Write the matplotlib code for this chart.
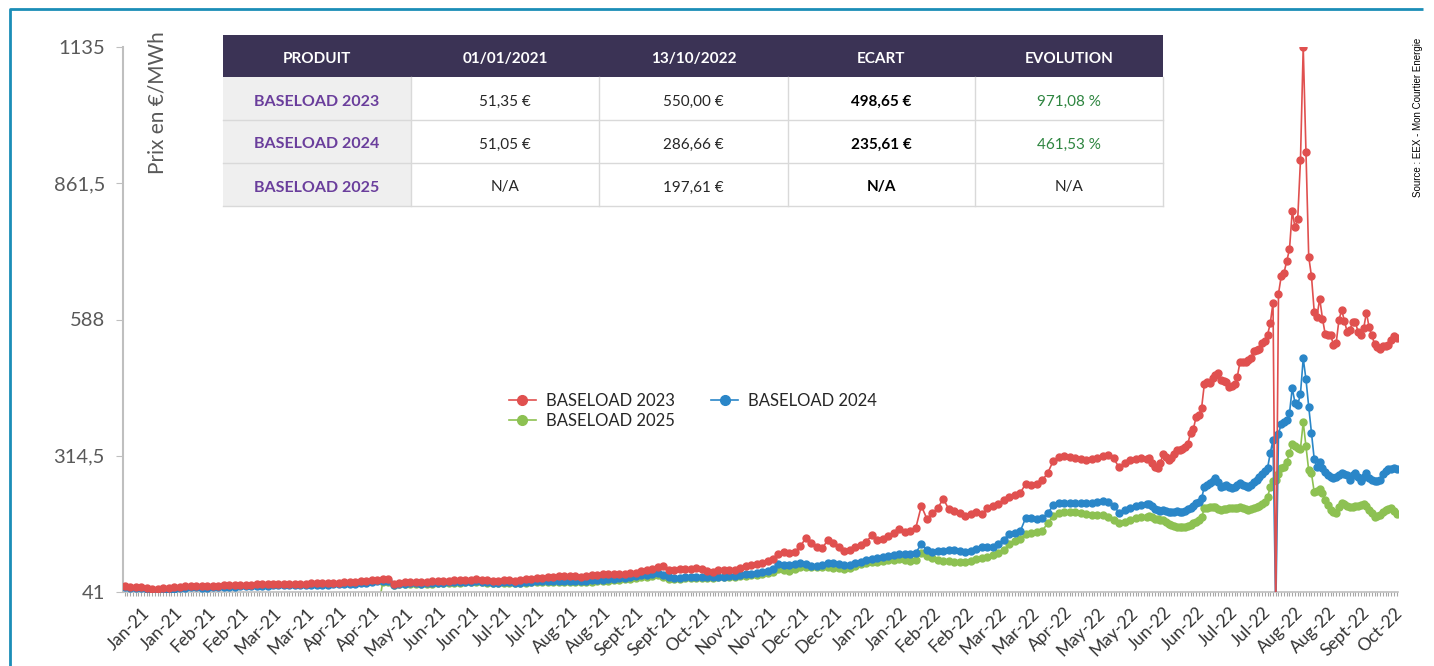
import numpy as np
import matplotlib
matplotlib.use('Agg')
import matplotlib.pyplot as plt
from matplotlib.lines import Line2D
from matplotlib.patches import Rectangle

plt.rcParams['font.family'] = ['Lato', 'DejaVu Sans']

# trading-day index of the samples: every 2nd day, then daily from mid-July 2022
days_early = np.arange(0, 372, 2)
days_late = np.arange(372, 464)
days_green_early = np.arange(92, 372, 2)   # BASELOAD 2025 quoted from April 2021

base2023_early = [
    53, 52, 52, 51, 50, 48, 48, 49, 50, 51,
    52, 53, 54, 54, 53, 53, 54, 54, 55, 55,
    55, 56, 56, 56, 57, 57, 57, 58, 58, 58,
    58, 58, 58, 58, 58.5, 59, 59, 59, 60, 60,
    61, 61, 62, 63, 64, 65, 66, 67, 67, 57,
    60, 61, 62, 62, 61, 62, 63, 63, 64, 64,
    65, 65, 66, 66, 67, 66, 65, 64, 64, 65,
    65, 64, 65, 67, 68, 70, 70, 71, 72, 73,
    73, 73, 73, 71, 74, 75, 76, 77, 77, 77,
    78, 78, 79, 80, 84, 86, 87, 92, 93, 85,
    86, 88, 88, 88, 89, 88, 84, 82, 85, 86,
    86, 85, 90, 93, 95, 97, 99, 103, 108, 118,
    122, 119, 122, 133, 150, 140, 131, 130, 145, 140,
    131, 124, 125, 131, 136, 142, 155, 145, 147, 154,
    160, 168, 161, 163, 170, 214, 188, 199, 210, 228,
    207, 203, 199, 193, 198, 201, 197, 209, 213, 218,
    225, 232, 235, 240, 258, 256, 257, 265, 280, 304,
    311, 314, 312, 309, 308, 306, 307, 309, 313, 317,
    309, 291, 300, 305, 308, 309,
]
base2023_late = [
    308, 309, 300, 292, 289, 300, 318, 312, 306, 310,
    318, 327, 326, 329, 333, 339, 360, 368, 392, 396,
    410, 458, 463, 460, 470, 476, 481, 466, 464, 463,
    452, 454, 458, 473, 503, 503, 503, 506, 510, 525,
    527, 528, 541, 545, 557, 580, 622, 0, 640, 675,
    682, 705, 729, 805, 773, 790, 908, 1135, 924, 714,
    675, 604, 594, 630, 590, 559, 557, 557, 537, 541,
    587, 607, 585, 563, 567, 583, 583, 562, 556, 570,
    602, 572, 556, 538, 532, 529, 535, 535, 537, 547,
    555, 550,
]

base2024_early = [
    51, 50, 50, 49, 48, 46, 46, 46, 47, 48,
    49, 50, 51, 51, 50, 50, 51, 51, 52, 52,
    52, 53, 53, 53, 54, 54, 54, 55, 55, 55,
    55, 55, 55, 55, 55, 56, 56, 56, 57, 57,
    57, 57, 58, 59, 60, 62, 63, 64, 64, 56,
    58, 58, 59, 59, 58, 59, 59, 60, 60, 61,
    61, 61, 62, 62, 63, 62, 61, 60, 60, 61,
    61, 60, 60, 61, 62, 63, 63, 63, 64, 64,
    64, 64, 64, 63, 64, 65, 65, 66, 67, 68,
    69, 70, 71, 73, 75, 76, 77, 79, 75, 71,
    70, 70, 71, 71, 72, 72, 71, 71, 72, 72,
    73, 73, 75, 77, 78, 80, 82, 84, 88, 98,
    96, 95, 97, 100, 97, 93, 93, 96, 100, 99,
    97, 95, 96, 99, 102, 105, 107, 109, 111, 113,
    115, 117, 117, 117, 120, 137, 126, 122, 124, 124,
    125, 125, 124, 122, 124, 128, 132, 132, 132, 138,
    146, 158, 159, 163, 190, 189, 187, 190, 199, 215,
    219, 219, 220, 220, 219, 220, 220, 221, 224, 222,
    214, 200, 206, 210, 213, 216,
]
base2024_late = [
    217, 218, 214, 208, 205, 204, 206, 204, 202, 201,
    202, 203, 202, 202, 204, 207, 210, 214, 219, 222,
    229, 252, 255, 259, 264, 269, 262, 252, 254, 256,
    252, 249, 251, 255, 259, 256, 254, 252, 255, 261,
    266, 271, 277, 283, 289, 320, 346, 0, 359, 378,
    382, 386, 400, 450, 421, 416, 439, 510, 468, 413,
    361, 308, 292, 301, 289, 282, 276, 272, 270, 272,
    276, 280, 277, 275, 266, 276, 280, 272, 263, 272,
    279, 269, 265, 263, 263, 266, 278, 283, 287, 288,
    289, 287,
]

base2025_early = [
    0, 62, 62, 55, 57, 57, 58, 58, 57, 58,
    58, 59, 59, 60, 60, 60, 61, 61, 62, 61,
    60, 59, 59, 60, 60, 59, 59, 60, 61, 61,
    61, 62, 62, 62, 62, 62, 62, 61, 62, 62,
    63, 63, 64, 65, 66, 67, 68, 69, 71, 72,
    73, 75, 71, 67, 67, 68, 69, 69, 70, 70,
    70, 70, 71, 71, 72, 72, 73, 74, 75, 76,
    77, 79, 82, 88, 86, 84, 87, 91, 92, 92,
    91, 91, 91, 90, 89, 88, 90, 93, 97, 100,
    101, 102, 104, 105, 106, 107, 105, 103, 106, 120,
    114, 110, 106, 104, 103, 102, 102, 102, 104, 107,
    109, 112, 115, 119, 126, 137, 143, 148, 158, 160,
    161, 164, 179, 193, 199, 201, 202, 201, 199, 197,
    196, 196, 196, 192, 185, 179, 182, 186, 189, 191,
]
base2025_late = [
    192, 193, 191, 188, 187, 186, 186, 181, 177, 175,
    173, 172, 171, 171, 172, 174, 176, 179, 182, 186,
    191, 209, 210, 211, 211, 212, 208, 205, 207, 208,
    209, 209, 209, 210, 212, 209, 207, 205, 207, 210,
    212, 214, 217, 222, 231, 252, 263, 266, 278, 289,
    291, 302, 320, 338, 334, 330, 329, 382, 334, 285,
    279, 242, 243, 247, 239, 226, 215, 206, 202, 200,
    212, 220, 217, 214, 212, 212, 213, 214, 216, 217,
    213, 206, 199, 192, 193, 196, 201, 206, 208, 209,
    204, 198,
]

month_labels = [
    'Jan-21', 'Jan-21', 'Feb-21', 'Feb-21', 'Mar-21', 'Mar-21', 'Apr-21', 'Apr-21',
    'May-21', 'Jun-21', 'Jun-21', 'Jul-21', 'Jul-21', 'Aug-21', 'Aug-21',
    'Sept-21', 'Sept-21', 'Oct-21', 'Nov-21', 'Nov-21', 'Dec-21', 'Dec-21',
    'Jan-22', 'Jan-22', 'Feb-22', 'Feb-22', 'Mar-22', 'Mar-22', 'Apr-22',
    'May-22', 'May-22', 'Jun-22', 'Jun-22', 'Jul-22', 'Jul-22', 'Aug-22',
    'Aug-22', 'Sept-22', 'Oct-22',
]
y_ticks = [41, 314.5, 588, 861.5, 1135]
y_tick_labels = ['41', '314,5', '588', '861,5', '1135']

table_header = ['PRODUIT', '01/01/2021', '13/10/2022', 'ECART', 'EVOLUTION']
table_products = ['BASELOAD 2023', 'BASELOAD 2024', 'BASELOAD 2025']
table_start = ['51,35 €', '51,05 €', 'N/A']
table_end = ['550,00 €', '286,66 €', '197,61 €']
table_gap = ['498,65 €', '235,61 €', 'N/A']
table_evol = ['971,08 %', '461,53 %', 'N/A']

RED = '#E0504F'
BLUE = '#2A86C8'
GREEN = '#8DC152'
GREY = '#595959'

W, H = 1434, 666
fig = plt.figure(figsize=(W / 100, H / 100), dpi=100)
fig.patch.set_facecolor('white')
ax = fig.add_axes([123 / W, 74 / H, 1275 / W, 545 / H])

x23 = np.concatenate([days_early, days_late])
x24 = np.concatenate([days_early, days_late])
x25 = np.concatenate([days_green_early, days_late])
series = [
    (x25, base2025_early + base2025_late, GREEN, 'BASELOAD 2025'),
    (x24, base2024_early + base2024_late, BLUE, 'BASELOAD 2024'),
    (x23, base2023_early + base2023_late, RED, 'BASELOAD 2023'),
]
for z, (x, y, col, lab) in enumerate(series):
    ax.plot(x, np.array(y, dtype=float), color=col, lw=1.2, marker='o', ms=5,
            mec=col, mfc=col, zorder=2 + z)

ax.set_xlim(-0.6, 463.5)
ax.set_ylim(41, 1135)
for s in ['top', 'right']:
    ax.spines[s].set_visible(False)
ax.spines['left'].set_color('#BFBFBF')
ax.spines['left'].set_linewidth(1.5)
ax.spines['bottom'].set_color('#BFBFBF')
ax.spines['bottom'].set_linewidth(1.2)

ax.set_yticks(y_ticks)
ax.set_yticklabels(y_tick_labels)
ax.tick_params(axis='y', length=5, color='#BFBFBF', labelsize=14.5,
               labelcolor=GREY, pad=8)

ax.set_xticks(np.arange(6, 464, 12)[:len(month_labels)])
ax.set_xticklabels(month_labels, rotation=45, ha='right', rotation_mode='anchor')
ax.set_xticks(np.arange(0, 464), minor=True)
ax.tick_params(axis='x', which='both', length=3, color='#A6A6A6', width=0.8,
               labelsize=12.5, labelcolor='#333333', pad=6)

handles = [Line2D([], [], color=RED, lw=1.2, marker='o', ms=7),
           Line2D([], [], color=GREEN, lw=1.2, marker='o', ms=7),
           Line2D([], [], color=BLUE, lw=1.2, marker='o', ms=7)]
ax.legend(handles, ['BASELOAD 2023', 'BASELOAD 2025', 'BASELOAD 2024'], ncol=2,
          loc='upper left', bbox_to_anchor=(494 / W, 1 - 378 / H),
          bbox_transform=fig.transFigure, frameon=False, fontsize=12,
          handlelength=1.6, columnspacing=2.2, labelspacing=0.25,
          handletextpad=0.6, labelcolor='#262626')

# overlay in pixel coordinates: frame, axis title, source, table
ov = fig.add_axes([0, 0, 1, 1], zorder=5)
ov.set_xlim(0, W)
ov.set_ylim(H, 0)
ov.axis('off')

ov.plot([10, 10, 1423], [H, 9, 9], color='#1B8DB7', lw=2, solid_capstyle='butt')
ov.text(158, 103, 'Prix en €/MWh', rotation=90, fontsize=15, color=GREY,
        ha='center', va='center')
ov.text(1418, 117, 'Source : EEX - Mon Courtier Energie', rotation=90,
        fontsize=7, family='Liberation Sans', ha='center', va='center')

col_edges = [223, 411, 599, 788, 975, 1163]
row_edges = [35, 77, 120, 163, 206]
HEAD = '#3B3355'
PURPLE = '#6A3E9C'
LINE = '#D9D9D9'

ov.add_patch(Rectangle((col_edges[0], row_edges[0]), col_edges[-1] - col_edges[0],
                       row_edges[1] - row_edges[0], color=HEAD, lw=0))
ov.add_patch(Rectangle((col_edges[0], row_edges[1]), col_edges[1] - col_edges[0],
                       row_edges[-1] - row_edges[1], color='#EFEFEF', lw=0))
for c, txt in enumerate(table_header):
    ov.text((col_edges[c] + col_edges[c + 1]) / 2, (row_edges[0] + row_edges[1]) / 2 + 1.5,
            txt, color='white', fontsize=11, fontweight='bold', ha='center',
            va='center_baseline')

body = list(zip(table_products, table_start, table_end, table_gap, table_evol))
for r, row in enumerate(body):
    yc = (row_edges[r + 1] + row_edges[r + 2]) / 2 + 1.5
    for c, txt in enumerate(row):
        xc = (col_edges[c] + col_edges[c + 1]) / 2
        kw = dict(color='#262626', fontsize=11, fontweight='normal')
        if c == 0:
            kw = dict(color=PURPLE, fontsize=11.5, fontweight='bold')
        elif c == 3:
            kw['fontweight'] = 'bold'
            kw['color'] = 'black'
        elif c == 4 and txt != 'N/A':
            kw['color'] = '#2E8540'
        ov.text(xc, yc, txt, ha='center', va='center_baseline', **kw)

for y in row_edges[2:]:
    ov.plot([col_edges[0], col_edges[-1]], [y, y], color=LINE, lw=1)
for x in col_edges[1:]:
    ov.plot([x, x], [row_edges[1], row_edges[-1]], color=LINE, lw=1)

fig.savefig('out.png', dpi=100, facecolor='white')
